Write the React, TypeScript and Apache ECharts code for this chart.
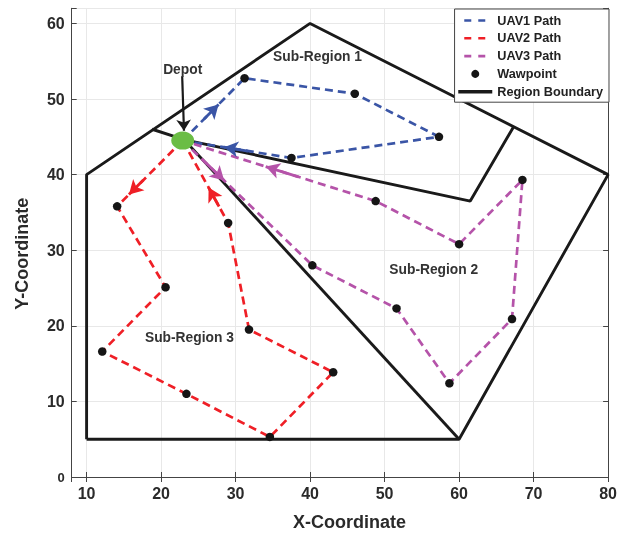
import React, { useEffect, useRef } from 'react';
import * as echarts from 'echarts';

// ---- data (chart coordinates) ----
const depot: number[] = [22.9, 44.5];
const uav1Waypoints: number[][] = [[31.2, 52.75], [46.0, 50.7], [57.3, 45.0], [37.5, 42.2]];
const uav2Waypoints: number[][] = [
  [14.1, 35.8], [20.6, 25.1], [12.1, 16.6], [23.4, 11.0],
  [34.6, 5.3], [43.1, 13.85], [31.8, 19.5], [29.0, 33.6],
];
const uav3Waypoints: number[][] = [
  [40.3, 28.0], [51.6, 22.3], [58.7, 12.4], [67.1, 20.9],
  [68.5, 39.3], [60.0, 30.8], [48.8, 36.5],
];
const outerBoundary: number[][] = [[10, 5], [10, 40], [40, 60], [80, 40], [60, 5], [10, 5]];
const divider12: number[][] = [[18.8, 46.0], [23.2, 44.6], [61.5, 36.5], [67.3, 46.3]];
const divider23: number[][] = [[23.4, 44.3], [60, 5]];
const annotationTexts: string[] = ['Depot', 'Sub-Region 1', 'Sub-Region 2', 'Sub-Region 3'];
const annotationCoords: number[][] = [[22.9, 53.9], [41.0, 55.6], [56.6, 27.4], [23.8, 18.4]];
const depotPointer: number[][] = [[22.83, 53.0], [23.07, 45.8]];
const xRange: number[] = [8, 80];
const yRange: number[] = [0, 62];
const legendNames: string[] = ['UAV1 Path', 'UAV2 Path', 'UAV3 Path', 'Wawpoint', 'Region Boundary'];

const BLUE = '#3a55a6';
const RED = '#ef1f26';
const MAGENTA = '#b553a9';
const BLACK = '#1a1a1a';
const FONT = 'Liberation Sans, Arial, Helvetica, sans-serif';

const lerp = (a: number[], b: number[], t: number) => [a[0] + (b[0] - a[0]) * t, a[1] + (b[1] - a[1]) * t];
const arrow = (a: number[], b: number[], t0: number, t1: number) => [
  { coord: lerp(a, b, t0) },
  { coord: lerp(a, b, t1) },
];

const pathSeries = (name: string, color: string, wps: number[][], arrows: any[]) => ({
  name,
  type: 'line',
  data: [depot, ...wps, depot],
  symbol: 'none',
  z: 3,
  lineStyle: { color, width: 2.7, type: [8, 5] },
  itemStyle: { color },
  markLine: {
    silent: true,
    symbol: ['none', 'arrow'],
    symbolSize: [12, 14],
    label: { show: false },
    lineStyle: { color, width: 2.8, type: 'solid' },
    data: arrows,
  },
});

const boundarySeries = (data: number[][]) => ({
  name: 'Region Boundary',
  type: 'line',
  data,
  symbol: 'none',
  z: 2,
  lineStyle: { color: BLACK, width: 2.9, type: 'solid' },
  itemStyle: { color: BLACK },
});

export default function App() {
  const ref = useRef<HTMLDivElement>(null);
  useEffect(() => {
    if (!ref.current) return;
    const chart = echarts.init(ref.current, undefined, { renderer: 'svg' });
    const last1 = uav1Waypoints[uav1Waypoints.length - 1];
    const last2 = uav2Waypoints[uav2Waypoints.length - 1];
    const last3 = uav3Waypoints[uav3Waypoints.length - 1];
    const axisCommon = {
      axisLine: { show: true, lineStyle: { color: '#444', width: 1 } },
      axisTick: { show: true, inside: true, length: 5, lineStyle: { color: '#444' } },
    };
    const hiddenSymbol = { color: 'transparent', borderWidth: 0, opacity: 0 };
    const option: any = {
      animation: false,
      textStyle: { fontFamily: FONT },
      grid: { left: 71.7, right: 10.7, top: 8.3, bottom: 56.7, containLabel: false },
      legend: {
        orient: 'vertical',
        right: 11,
        top: 9,
        itemWidth: 34,
        itemHeight: 8,
        itemGap: 4.8,
        padding: [5, 6, 4, 2],
        backgroundColor: '#fff',
        borderColor: '#444',
        borderWidth: 1,
        borderRadius: 0,
        textStyle: { fontSize: 12.7, fontWeight: 'bold', color: '#222', fontFamily: FONT },
        data: legendNames.map((n, i) =>
          i < 3
            ? { name: n, itemStyle: hiddenSymbol, lineStyle: { type: [7, 7], dashOffset: 8, width: 2.6 } }
            : i === 4
            ? { name: n, itemStyle: hiddenSymbol, lineStyle: { width: 3.4 } }
            : { name: n }
        ),
      },
      xAxis: [
        {
          type: 'value',
          min: xRange[0],
          max: xRange[1],
          splitNumber: 7,
          ...axisCommon,
          splitLine: { show: true, lineStyle: { color: '#e8e8e8', width: 1 } },
          axisLabel: {
            margin: 8,
            fontSize: 16,
            fontWeight: 'bold',
            color: '#2a2a2a',
            formatter: (v: number) => (v % 10 === 0 ? String(v) : ''),
          },
          name: 'X-Coordinate',
          nameLocation: 'middle',
          nameGap: 36,
          nameTextStyle: { fontSize: 18, fontWeight: 'bold', color: '#2a2a2a', padding: [0, 0, 0, 19] },
        },
        {
          type: 'value',
          position: 'top',
          min: xRange[0],
          max: xRange[1],
          splitNumber: 7,
          ...axisCommon,
          axisLabel: { show: false },
          splitLine: { show: false },
        },
      ],
      yAxis: [
        {
          type: 'value',
          min: yRange[0],
          max: yRange[1],
          interval: 10,
          ...axisCommon,
          splitLine: { show: true, lineStyle: { color: '#e8e8e8', width: 1 } },
          axisLabel: {
            margin: 7,
            fontSize: 16,
            fontWeight: 'bold',
            color: '#2a2a2a',
            formatter: (v: number) => (v === 0 ? '{s|0}' : v % 10 === 0 ? String(v) : ''),
            rich: { s: { fontSize: 13, fontWeight: 'bold', color: '#2a2a2a', fontFamily: FONT } },
          },
          name: 'Y-Coordinate',
          nameLocation: 'middle',
          nameGap: 41,
          nameTextStyle: { fontSize: 18, fontWeight: 'bold', color: '#2a2a2a', padding: [0, 22, 0, 0] },
        },
        {
          type: 'value',
          position: 'right',
          min: yRange[0],
          max: yRange[1],
          interval: 10,
          ...axisCommon,
          axisLabel: { show: false },
          splitLine: { show: false },
        },
      ],
      series: [
        boundarySeries(outerBoundary),
        boundarySeries(divider12),
        boundarySeries(divider23),
        pathSeries('UAV1 Path', BLUE, uav1Waypoints, [
          arrow(depot, uav1Waypoints[0], 0.35, 0.58),
          arrow(last1, depot, 0.4, 0.62),
        ]),
        pathSeries('UAV2 Path', RED, uav2Waypoints, [
          arrow(depot, uav2Waypoints[0], 0.6, 0.82),
          arrow(last2, depot, 0.2, 0.43),
        ]),
        pathSeries('UAV3 Path', MAGENTA, uav3Waypoints, [
          arrow(depot, uav3Waypoints[0], 0.15, 0.32),
          arrow(last3, depot, 0.4, 0.57),
        ]),
        {
          name: 'Wawpoint',
          type: 'scatter',
          data: [...uav1Waypoints, ...uav2Waypoints, ...uav3Waypoints],
          symbol: 'circle',
          symbolSize: 8.5,
          z: 5,
          itemStyle: { color: '#151515', opacity: 1 },
        },
        {
          name: 'annotations',
          type: 'scatter',
          symbolSize: 1,
          z: 6,
          silent: true,
          itemStyle: { color: 'transparent', opacity: 1 },
          label: {
            show: true,
            position: 'inside',
            formatter: '{b}',
            fontSize: 13.8,
            fontWeight: 'bold',
            color: '#333',
            opacity: 1,
            fontFamily: FONT,
          },
          data: annotationTexts.map((t, i) => ({ name: t, value: annotationCoords[i] })),
          markLine: {
            silent: true,
            symbol: ['none', 'arrow'],
            symbolSize: 11,
            label: { show: false },
            lineStyle: { color: BLACK, width: 2.2, type: 'solid' },
            data: [[{ coord: depotPointer[0] }, { coord: depotPointer[1] }]],
          },
        },
        {
          name: 'depot',
          type: 'scatter',
          data: [depot],
          symbol: 'circle',
          symbolSize: [23, 18],
          z: 7,
          itemStyle: { color: '#6bbd45', opacity: 1 },
        },
      ],
    };
    chart.setOption(option);
    return () => chart.dispose();
  }, []);
  return <div ref={ref} style={{ position: 'fixed', left: 0, top: 0, width: 620, height: 536 }} />;
}
